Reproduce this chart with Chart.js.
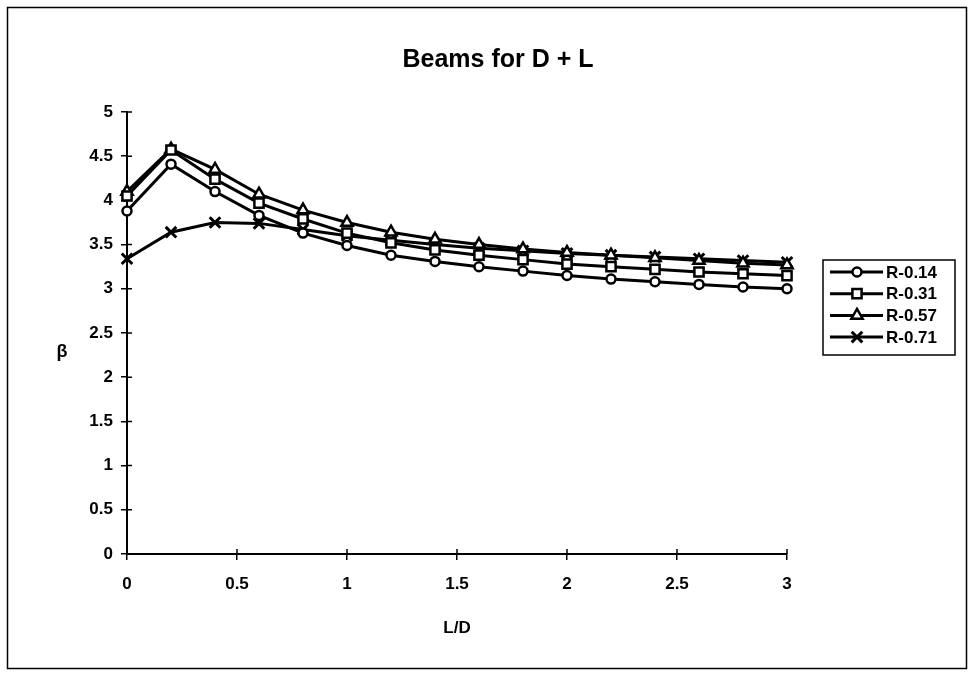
<!DOCTYPE html>
<html>
<head>
<meta charset="utf-8">
<title>Beams for D + L</title>
<script src="https://cdn.jsdelivr.net/npm/chart.js@4/dist/chart.umd.min.js"></script>
<style>
body { margin: 0; background: #fff; }
</style>
</head>
<body>
<canvas id="myChart" width="974" height="678"></canvas>
<script>
// L/D ratio along the x axis
const ldValues = [0, 0.2, 0.4, 0.6, 0.8, 1.0, 1.2, 1.4, 1.6, 1.8, 2.0, 2.2, 2.4, 2.6, 2.8, 3.0]

// reliability index beta for each R
const betaR014 = [3.88, 4.41, 4.10, 3.83, 3.63, 3.49, 3.38, 3.31, 3.25, 3.20, 3.15, 3.11, 3.08, 3.05, 3.02, 3.00]
const betaR031 = [4.05, 4.57, 4.24, 3.97, 3.79, 3.63, 3.52, 3.44, 3.38, 3.33, 3.28, 3.25, 3.22, 3.19, 3.17, 3.15]
const betaR057 = [4.10, 4.58, 4.35, 4.07, 3.89, 3.75, 3.64, 3.56, 3.50, 3.45, 3.41, 3.38, 3.35, 3.32, 3.29, 3.27]
const betaR071 = [3.34, 3.64, 3.75, 3.74, 3.67, 3.60, 3.55, 3.50, 3.46, 3.43, 3.40, 3.38, 3.36, 3.34, 3.32, 3.30]

const seriesNames = ["R-0.14", "R-0.31", "R-0.57", "R-0.71"]
const seriesValues = [betaR014, betaR031, betaR057, betaR071]
const markerStyles = ["circle", "rect", "triangle", "crossRot"]
const markerSizes = [4.5, 6.5, 6.5, 7.5]

const chartTitle = "Beams for D + L"
const xTitle = "L/D"
const yTitle = "β"
const fontFamily = '"Liberation Sans", Arial, sans-serif'

let datasets = []
for (let i = 0; i < seriesNames.length; i++) {
    datasets.push({
        label: seriesNames[i],
        data: ldValues.map((x, j) => ({ x: x, y: seriesValues[i][j] })),
        borderColor: "#000",
        borderWidth: 3,
        pointStyle: markerStyles[i],
        pointRadius: markerSizes[i],
        pointBackgroundColor: "#fff",
        pointBorderColor: "#000",
        pointBorderWidth: i == 3 ? 3 : 2.5,
        tension: 0,
        fill: false,
        clip: false
    })
}

// frame, inner tick marks, title, beta label and the boxed legend
const decorations = {
    id: "decorations",
    beforeDraw(chart) {
        const ctx = chart.ctx
        ctx.save()
        ctx.fillStyle = "#fff"
        ctx.fillRect(0, 0, chart.width, chart.height)
        ctx.strokeStyle = "#000"
        ctx.lineWidth = 1.5
        ctx.strokeRect(7.5, 7.5, 959, 661)
        ctx.restore()
    },
    afterDraw(chart) {
        const ctx = chart.ctx
        const area = chart.chartArea
        const xs = chart.scales.x
        const ys = chart.scales.y
        ctx.save()
        ctx.strokeStyle = "#000"
        ctx.lineWidth = 1.5
        ctx.beginPath()
        ys.ticks.forEach(t => {
            const py = ys.getPixelForValue(t.value)
            ctx.moveTo(area.left, py)
            ctx.lineTo(area.left + 5, py)
        })
        xs.ticks.forEach(t => {
            const px = xs.getPixelForValue(t.value)
            ctx.moveTo(px, area.bottom)
            ctx.lineTo(px, area.bottom - 5)
        })
        ctx.stroke()

        ctx.fillStyle = "#000"
        ctx.textAlign = "center"
        ctx.textBaseline = "middle"
        ctx.font = "bold 25px " + fontFamily
        ctx.fillText(chartTitle, 498, 60)
        ctx.font = "bold 18px " + fontFamily
        ctx.fillText(yTitle, 62, 352)

        // legend
        ctx.lineWidth = 1.5
        ctx.strokeRect(823, 260, 132, 95)
        ctx.font = "bold 17px " + fontFamily
        ctx.textAlign = "left"
        for (let i = 0; i < seriesNames.length; i++) {
            const ly = 272 + i * 21.7
            ctx.strokeStyle = "#000"
            ctx.lineWidth = 3
            ctx.beginPath()
            ctx.moveTo(830, ly)
            ctx.lineTo(883, ly)
            ctx.stroke()
            ctx.fillStyle = "#fff"
            ctx.lineWidth = datasets[i].pointBorderWidth
            Chart.helpers.drawPoint(ctx, {
                pointStyle: markerStyles[i],
                radius: markerSizes[i],
                rotation: 0,
                borderWidth: datasets[i].pointBorderWidth
            }, 857, ly)
            ctx.fillStyle = "#000"
            ctx.fillText(seriesNames[i], 886, ly + 1)
        }
        ctx.restore()
    }
}

new Chart("myChart", {
    type: "line",
    data: { datasets: datasets },
    plugins: [decorations],
    options: {
        responsive: false,
        animation: false,
        devicePixelRatio: 1,
        layout: { padding: { top: 112, right: 187, bottom: 0, left: 0 } },
        plugins: {
            legend: { display: false },
            title: { display: false },
            tooltip: { enabled: false }
        },
        scales: {
            x: {
                type: "linear",
                min: 0,
                max: 3,
                ticks: {
                    stepSize: 0.5,
                    color: "#000",
                    padding: 14,
                    font: { size: 17, weight: "bold", family: fontFamily },
                    callback: v => String(v)
                },
                grid: { drawOnChartArea: false, tickLength: 6, color: "#000", lineWidth: 1.5 },
                border: { color: "#000", width: 2 },
                title: {
                    display: true,
                    text: xTitle,
                    color: "#000",
                    font: { size: 17, weight: "bold", family: fontFamily },
                    padding: { top: 0, bottom: 39 }
                },
                afterFit: s => { s.height = 124 }
            },
            y: {
                min: 0,
                max: 5,
                ticks: {
                    stepSize: 0.5,
                    color: "#000",
                    padding: 8,
                    font: { size: 17, weight: "bold", family: fontFamily },
                    callback: v => String(v)
                },
                grid: { drawOnChartArea: false, tickLength: 6, color: "#000", lineWidth: 1.5 },
                border: { color: "#000", width: 2 },
                afterFit: s => { s.width = 127 }
            }
        }
    }
})
</script>
</body>
</html>
